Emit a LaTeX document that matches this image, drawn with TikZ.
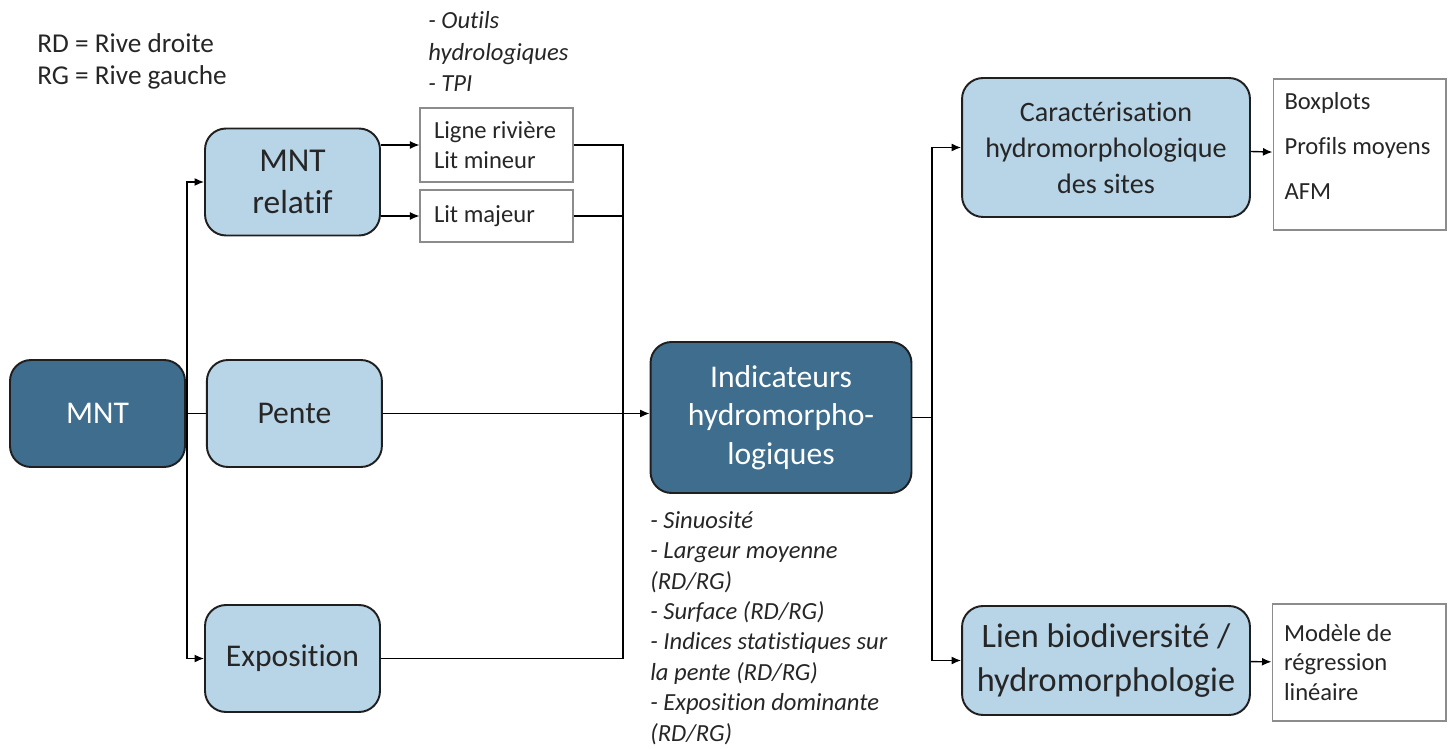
\documentclass[tikz,border=0pt]{standalone}
\usepackage{fontspec}
\setmainfont{Carlito}[Ligatures=NoCommon]
\usetikzlibrary{positioning,arrows.meta}

\definecolor{deepblue}{HTML}{3E6D8E}
\definecolor{paleblue}{HTML}{B8D4E7}
\definecolor{inkgray}{HTML}{262626}

\tikzset{
  block/.style={draw=black!88,line width=1.1pt,rounded corners=0.42cm,align=center,
    minimum width=3.5cm,minimum height=2.14cm,inner sep=2pt,
    font=\fontsize{18}{22}\selectfont},
  darkblock/.style={block,fill=deepblue,text=white},
  lightblock/.style={block,fill=paleblue,text=inkgray},
  listbox/.style={draw=black!45,line width=0.6pt,align=left,text=inkgray,
    font=\fontsize{14}{17}\selectfont,
    execute at begin node={\spaceskip=0pt\xspaceskip=0pt}},
  notes/.style={align=left,inner sep=0pt,anchor=north west,text=inkgray},
  link/.style={line width=0.8pt,black},
  arrow/.style={link,-{Latex[length=1.9mm,width=1.6mm]}}
}

\begin{document}
\begin{tikzpicture}[x=0.02cm,y=-0.02cm]
\useasboundingbox (0,0) rectangle (1452,749);

% first column
\node [darkblock] (mnt) at (97.5,413.5) {MNT};
\node [lightblock,right=0.4cm of mnt] (pente) {Pente};
\node [lightblock,font=\fontsize{19}{24}\selectfont] (mntrel) at (292.5,182) {MNT\\relatif};
\node [lightblock] (expo) at (292.5,658.5) {Exposition};

% outputs of the relative DEM
\node [listbox,text width=2.5cm,inner xsep=0.28cm,minimum height=1.48cm] (ligne) at (496.5,145) {Ligne rivière\\Lit mineur};
\node [listbox,text width=2.5cm,inner xsep=0.28cm,minimum height=1.04cm] (litmaj) at (496.5,216) {Lit majeur};
\node [notes,font=\fontsize{14}{18}\selectfont\itshape] (tools) at (428,11) {- Outils\\hydrologiques\\- TPI};

% indicators
\node [darkblock,minimum width=5.22cm,minimum height=3.02cm] (indic) at (781,417.5) {Indicateurs\\hydromorpho-\\logiques};
\node [notes,font=\fontsize{14}{17.3}\selectfont\itshape] (indlist) at (650,511)
  {- Sinuosité\\- Largeur moyenne\\(RD/RG)\\- Surface (RD/RG)\\- Indices statistiques sur\\la pente (RD/RG)\\- Exposition dominante\\(RD/RG)};

% analyses
\node [lightblock,minimum width=5.76cm,minimum height=2.78cm,font=\fontsize{16}{20.5}\selectfont] (carac) at (1106,147.5) {Caractérisation\\hydromorphologique\\des sites};
\node [lightblock,minimum width=5.76cm,minimum height=2.18cm,font=\fontsize{19.5}{25}\selectfont] (lien) at (1106,660.5) {Lien biodiversité /\\hydromorphologie};
\node [listbox,text width=3.0cm,inner xsep=0.23cm,minimum height=3.02cm,font=\fontsize{14}{25.5}\selectfont] (plots) at (1359.5,154.5) {Boxplots\\Profils moyens\\AFM\vspace{10pt}};
\node [listbox,text width=3.0cm,inner xsep=0.24cm,minimum height=2.34cm] (modele) at (1359,662.5) {Modèle de\\régression\\linéaire};

\node [notes,font=\fontsize{15.5}{18.5}\selectfont] (legend) at (37,33) {RD = Rive droite\\RG = Rive gauche};

% connectors
\coordinate (jl) at (187,413.5);
\coordinate (jm) at (623,413.5);
\coordinate (jr) at (932,417.5);

\draw [link] (mnt) -- (pente);
\foreach \b in {mntrel,expo}
  \draw [arrow] (jl) |- (\b.west);
\foreach \b in {ligne,litmaj}
  \draw [arrow] (mntrel.east |- \b.west) -- (\b.west);
\foreach \b in {ligne,litmaj,expo}
  \draw [link] (\b.east) -| (jm);
\draw [arrow] (pente.east) -- (pente.east -| indic.west);
\draw [link] (indic.east) -- (jr);
\foreach \b in {carac,lien}
  \draw [arrow] (jr) |- (\b.west);
\draw [arrow] (carac) -- (plots);
\draw [arrow] (lien) -- (modele);

\end{tikzpicture}
\end{document}
